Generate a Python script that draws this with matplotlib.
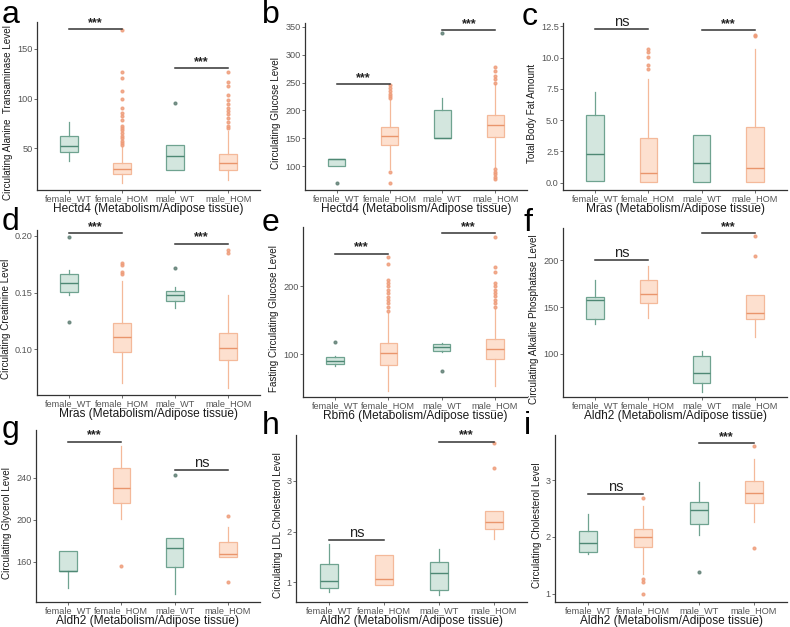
import matplotlib
matplotlib.use("Agg")
import matplotlib.pyplot as plt

plt.rcParams['font.family'] = ['Liberation Sans', 'DejaVu Sans']

groups = ["female_WT", "female_HOM", "male_WT", "male_HOM"]
letters = ["a", "b", "c", "d", "e", "f", "g", "h", "i"]
genes = ["Hectd4", "Hectd4", "Mras", "Mras", "Rbm6", "Aldh2", "Aldh2", "Aldh2", "Aldh2"]
ylabels = ["Circulating Alanine  Transaminase Level",
           "Circulating Glucose Level",
           "Total Body Fat Amount",
           "Circulating Creatinine Level",
           "Fasting Circulating Glucose Level",
           "Circulating Alkaline Phosphatase Level",
           "Circulating Glycerol Level",
           "Circulating LDL Cholesterol Level",
           "Circulating Cholesterol Level"]

# box statistics per panel, order: female_WT, female_HOM, male_WT, male_HOM
wlo = [[36.7, 15, 28.3, 18],
       [100, 95, 150, 98],
       [0.13, 0.03, 0.08, 0.03],
       [0.148, 0.070, 0.136, 0.0657],
       [82, 45.4, 103, 52.7],
       [132, 138.2, 59.6, 118.6],
       [135, 200.8, 128.6, 164.7],
       [0.82, 0.95, 0.75, 1.85],
       [1.69, 1.34, 2.04, 2.26]]
q1 = [[46, 24, 28.3, 28],
      [101, 138, 150, 153],
      [0.13, 0.03, 0.08, 0.03],
      [0.1507, 0.098, 0.1428, 0.0906],
      [85.9, 84.4, 104.9, 92.7],
      [137, 154.3, 69.3, 137.1],
      [150.6, 215.5, 154.7, 164.7],
      [0.90, 0.95, 0.86, 2.055],
      [1.74, 1.83, 2.225, 2.595]]
med = [[52.7, 29, 42.3, 35],
       [112, 154, 151, 173],
       [2.29, 0.8, 1.54, 1.14],
       [0.1587, 0.111, 0.1478, 0.1009],
       [90.2, 101.5, 111, 107.8],
       [157.9, 164, 79.3, 143.6],
       [151.2, 230.6, 173.2, 167.2],
       [1.03, 1.065, 1.195, 2.19],
       [1.89, 1.99, 2.47, 2.77]]
q3 = [[62.7, 35, 53.3, 44],
      [113.5, 170.6, 200, 191],
      [5.45, 3.54, 3.8, 4.47],
      [0.166, 0.1235, 0.1516, 0.114],
      [95.1, 116, 114.6, 122.4],
      [160.7, 179, 98.2, 162.5],
      [170, 249.4, 182.6, 178.8],
      [1.37, 1.53, 1.40, 2.41],
      [2.10, 2.145, 2.62, 2.98]]
whi = [[76.7, 51, 53.3, 67],
       [113.5, 218, 222, 247],
       [7.26, 8.3, 3.8, 10.7],
       [0.170, 0.160, 0.155, 0.148],
       [96.6, 160, 116.7, 166],
       [179, 193.6, 103, 162.5],
       [170, 270, 182.6, 193],
       [1.75, 1.53, 1.66, 2.41],
       [2.40, 2.55, 2.97, 3.38]]
fliers = [[[], [53, 55, 57, 60, 62, 65, 68, 70, 72, 78, 82, 85, 90, 100, 108, 121, 127, 169],
           [95.7], [70, 72, 76, 80, 84, 87, 90, 95, 99, 104, 113, 117, 127]],
          [[70], [70, 90, 222, 226, 230, 235, 240, 245], [339],
           [77, 80, 85, 90, 95, 250, 256, 262, 270, 278]],
          [[], [9.1, 9.4, 10.05, 10.45, 10.7], [], [11.7, 11.85]],
          [[0.124, 0.199], [0.166, 0.168, 0.174, 0.176], [0.1713], [0.185, 0.1874]],
          [[118.5], [164, 170, 175, 180, 184, 190, 195, 200, 205, 209, 232, 243], [75.6],
           [170, 175, 180, 185, 190, 195, 200, 204, 221, 228, 273]],
          [[], [], [], [205, 226.4]],
          [[], [155.3], [243], [140.5, 203]],
          [[], [], [], [3.26, 3.74]],
          [[], [0.99, 1.2, 1.25, 2.68], [1.376], [1.80, 3.61]]]

# significance brackets: (female label, height), (male label, height)
sig_f = [("***", 170), ("***", 248), ("ns", 12.3), ("***", 0.202), ("***", 247.8),
         ("ns", 200), ("***", 274.5), ("ns", 1.83), ("ns", 2.75)]
sig_m = [("***", 130.7), ("***", 344), ("***", 12.23), ("***", 0.193), ("***", 278),
         ("***", 229), ("ns", 247), ("***", 3.77), ("***", 3.66)]

ylims = [(8, 177), (57, 357), (-0.58, 12.77), (0.0598, 0.205), (37, 287),
         (54, 234.6), (121.4, 285.5), (0.615, 3.9), (0.85, 3.8)]
yticks = [[50, 100, 150], [100, 150, 200, 250, 300, 350],
          [0.0, 2.5, 5.0, 7.5, 10.0, 12.5], [0.10, 0.15, 0.20], [100, 200],
          [100, 150, 200], [160, 200, 240], [1, 2, 3], [1, 2, 3]]
ytickfmt = ["{:.0f}", "{:.0f}", "{:.1f}", "{:.2f}", "{:.0f}", "{:.0f}", "{:.0f}", "{:.0f}", "{:.0f}"]

# axes boxes in pixels: left, top, right, bottom
boxes = [(37, 22, 260, 190), (305, 23, 527, 190), (563, 23, 787, 190),
         (37, 230, 260, 395), (303, 227, 527, 397), (563, 228, 787, 397),
         (36, 430, 260, 602), (296, 435, 527, 602), (555, 435, 787, 602)]
letter_pos = [(2, 23), (262, 23), (522, 25), (2, 230), (262, 231), (524, 231),
              (2, 438), (262, 434), (524, 434)]

W, H = 790, 627
fill = {"WT": "#d3e6de", "HOM": "#fde0cf"}
edge = {"WT": "#6fa390", "HOM": "#f4b99a"}
medc = {"WT": "#4e8874", "HOM": "#e9956c"}
flc = {"WT": "#5d7d72", "HOM": "#ee9b78"}

fig = plt.figure(figsize=(W / 100, H / 100), dpi=100)

for k in range(9):
    l, t, r, b = boxes[k]
    ax = fig.add_axes([l / W, 1 - b / H, (r - l) / W, (b - t) / H])
    stats = []
    for j in range(4):
        stats.append(dict(whislo=wlo[k][j], q1=q1[k][j], med=med[k][j], q3=q3[k][j],
                          whishi=whi[k][j], fliers=fliers[k][j]))
    res = ax.bxp(stats, positions=[1, 2, 3, 4], widths=0.33, patch_artist=True,
                 showcaps=False)
    for j in range(4):
        g = "WT" if j % 2 == 0 else "HOM"
        res["boxes"][j].set(facecolor=fill[g], edgecolor=edge[g], linewidth=0.9)
        res["medians"][j].set(color=medc[g], linewidth=1.0)
        for w in res["whiskers"][2 * j:2 * j + 2]:
            w.set(color=edge[g], linewidth=0.9)
        res["fliers"][j].set(marker="o", markersize=2.0, markerfacecolor=flc[g],
                             markeredgecolor=flc[g], alpha=0.8)
    for (lab, h), (x0, x1) in [(sig_f[k], (1, 2)), (sig_m[k], (3, 4))]:
        ax.plot([x0, x1], [h, h], color="#333333", linewidth=1.1)
        if lab == "ns":
            ax.text((x0 + x1) / 2, h, lab, ha="center", va="bottom", fontsize=10.5,
                    color="#222222")
        else:
            ax.text((x0 + x1) / 2, h, lab, ha="center", va="bottom", fontsize=9,
                    color="#222222", fontweight="bold")
    ax.set_xlim(0.4, 4.6)
    ax.set_ylim(*ylims[k])
    ax.set_xticks([1, 2, 3, 4])
    ax.set_xticklabels(groups, fontsize=6.6, color="#555555")
    ax.set_yticks(yticks[k])
    ax.set_yticklabels([ytickfmt[k].format(v) for v in yticks[k]], fontsize=6.6,
                       color="#555555")
    ax.tick_params(length=2, width=0.6, color="#555555", pad=1)
    for s in ["top", "right"]:
        ax.spines[s].set_visible(False)
    for s in ["left", "bottom"]:
        ax.spines[s].set_color("#333333")
        ax.spines[s].set_linewidth(0.9)
    ax.set_xlabel(genes[k] + " (Metabolism/Adipose tissue)", fontsize=8.6,
                  color="#1a1a1a", labelpad=0)
    ax.set_ylabel(ylabels[k], fontsize=7.1, color="#1a1a1a", labelpad=3)
    ax.yaxis.label.set_y(0.46)
    fig.text(letter_pos[k][0] / W, 1 - letter_pos[k][1] / H, letters[k],
             fontsize=23, ha="left", va="baseline", color="black")

fig.savefig("out.png", dpi=100)
